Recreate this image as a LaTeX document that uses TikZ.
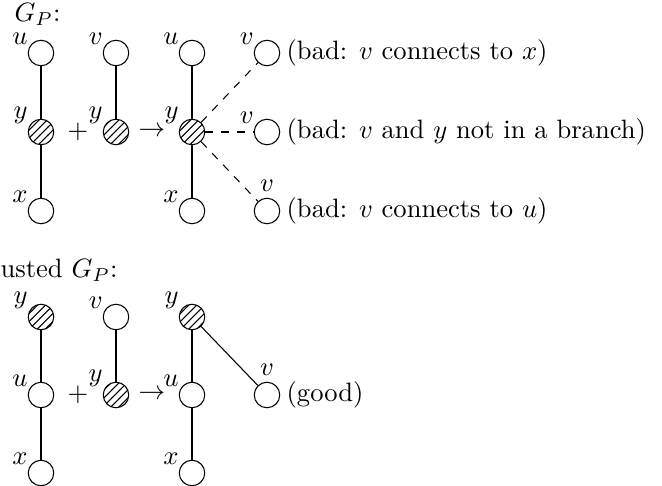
\documentclass[tikz,border=0pt]{standalone}
\usetikzlibrary{patterns}
\begin{document}
\begin{tikzpicture}[x=0.3764pt,y=-0.3764pt,
  vtx/.style={circle,draw,minimum size=9.6pt,inner sep=0pt,line width=0.4pt},
  hv/.style={vtx,pattern=north east lines},
  ul/.style={label={[inner sep=0.5pt]150:$#1$}},
  al/.style={label={[inner sep=2pt]above:$#1$}},
  note/.style={anchor=west,inner sep=2.2pt},
  edge/.style={line width=0.4pt},
  dedge/.style={line width=0.4pt,dashed}]
\useasboundingbox (0,0) rectangle (662,486);
% top section
\node[anchor=west,inner sep=0pt] (t1) at (14,14) {$G_P$:};
\node[vtx,ul=u] (u1) at (41,53) {};
\node[hv,ul=y] (y1) at (41,132) {};
\node[vtx,ul=x] (x1) at (41,211) {};
\node (p1) at (78,132) {$+$};
\node[vtx,ul=v] (v2) at (116,53) {};
\node[hv,ul=y] (y2) at (116,132) {};
\node (a1) at (152,132) {$\rightarrow$};
\node[vtx,ul=u] (u3) at (192,53) {};
\node[hv,ul=y] (y3) at (192,132) {};
\node[vtx,ul=x] (x3) at (192,211) {};
\node[vtx,ul=v] (va) at (267,53) {};
\node[vtx,ul=v] (vb) at (267,132) {};
\node[vtx,al=v] (vc) at (267,211) {};
\node[note] (na) at (va.east) {(bad: $v$ connects to $x$)};
\node[note] (nb) at (vb.east) {(bad: $v$ and $y$ not in a branch)};
\node[note] (nc) at (vc.east) {(bad: $v$ connects to $u$)};
\draw[edge] (u1) -- (y1) -- (x1);
\draw[edge] (v2) -- (y2);
\draw[edge] (u3) -- (y3) -- (x3);
\draw[dedge] (y3) -- (va);
\draw[dedge] (y3) -- (vb);
\draw[dedge] (y3) -- (vc);
% bottom section
\node[anchor=west,inner sep=0pt] (t2) at (0,270) {usted $G_P$:};
\node[hv,ul=y] (y4) at (41,317) {};
\node[vtx,ul=u] (u4) at (41,395) {};
\node[vtx,ul=x] (x4) at (41,473) {};
\node (p2) at (78,395) {$+$};
\node[vtx,ul=v] (v5) at (116,317) {};
\node[hv,ul=y] (y5) at (116,395) {};
\node (a2) at (152,395) {$\rightarrow$};
\node[hv,ul=y] (y6) at (192,317) {};
\node[vtx,ul=u] (u6) at (192,395) {};
\node[vtx,ul=x] (x6) at (192,473) {};
\node[vtx,al=v] (v6) at (267,395) {};
\node[note] (ng) at (v6.east) {(good)};
\draw[edge] (y4) -- (u4) -- (x4);
\draw[edge] (v5) -- (y5);
\draw[edge] (y6) -- (u6) -- (x6);
\draw[edge] (y6) -- (v6);
\end{tikzpicture}
\end{document}
